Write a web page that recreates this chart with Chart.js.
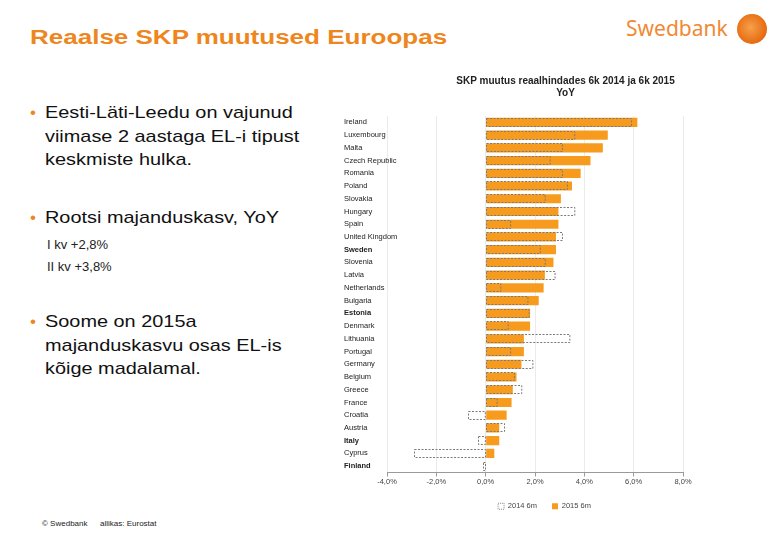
<!DOCTYPE html>
<html>
<head>
<meta charset="utf-8">
<script src="https://cdn.jsdelivr.net/npm/chart.js@4.4.0/dist/chart.umd.min.js"></script>
<style>
  body { margin: 0; background: #fff; font-family: "Liberation Sans", Arial, sans-serif; }
  #page { position: relative; width: 780px; height: 540px; overflow: hidden; }
  .abs { position: absolute; white-space: nowrap; transform-origin: 0 0; }
  #title { left: 30px; top: 26px; font-size: 20px; font-weight: bold; color: #EE8620; transform: scaleX(1.3); }
  #logo { left: 626px; top: 14px; font-size: 21px; color: #F08A34; font-family: "Noto Sans", Arial, sans-serif; }
  #logoDot { left: 737px; top: 14px; width: 30px; height: 30px; border-radius: 50%;
             background: radial-gradient(circle at 45% 45%, #F6A04A, #E56A10 70%, #C8560A); }
  .bullet { left: 30px; font-size: 17px; color: #111; line-height: 23.5px; }
  .bullet b { color: #EE8620; font-weight: normal; position: absolute; left: 0; }
  .bullet span { display: block; padding-left: 15px; transform: scaleX(1.17); transform-origin: 15px 0; }
  .sub { left: 47px; font-size: 13px; color: #222; }
  .foot { top: 519px; font-size: 8px; color: #222; }
  #chartBox { position: absolute; left: 330px; top: 68px; width: 380px; height: 454px; }
</style>
</head>
<body>
<div id="page">
  <div class="abs" id="title">Reaalse SKP muutused Euroopas</div>
  <div class="abs" id="logo">Swedbank</div>
  <div class="abs" id="logoDot"></div>

  <div class="abs bullet" style="top:101px"><b>•</b><span>Eesti-Läti-Leedu on vajunud<br>viimase 2 aastaga EL-i tipust<br>keskmiste hulka.</span></div>
  <div class="abs bullet" style="top:206px"><b>•</b><span>Rootsi majanduskasv, YoY</span></div>
  <div class="abs sub" style="top:237px">I kv +2,8%</div>
  <div class="abs sub" style="top:259px">II kv +3,8%</div>
  <div class="abs bullet" style="top:310px"><b>•</b><span>Soome on 2015a<br>majanduskasvu osas EL-is<br>kõige madalamal.</span></div>

  <div class="abs foot" style="left:42px">© Swedbank</div>
  <div class="abs foot" style="left:100px">allikas: Eurostat</div>

  <div id="chartBox"><canvas id="gdpChart"></canvas></div>
</div>

<script>
// countries, top to bottom
const countries = ['Ireland', 'Luxembourg', 'Malta', 'Czech Republic', 'Romania', 'Poland', 'Slovakia',
    'Hungary', 'Spain', 'United Kingdom', 'Sweden', 'Slovenia', 'Latvia', 'Netherlands', 'Bulgaria',
    'Estonia', 'Denmark', 'Lithuania', 'Portugal', 'Germany', 'Belgium', 'Greece', 'France', 'Croatia',
    'Austria', 'Italy', 'Cyprus', 'Finland'];
// real GDP change YoY, %
const gdp2014 = [5.9, 3.6, 3.1, 2.6, 3.1, 3.3, 2.4, 3.6, 1.0, 3.1, 2.2, 2.4, 2.8, 0.6, 1.7,
    1.75, 0.9, 3.4, 1.0, 1.9, 1.15, 1.45, 0.45, -0.7, 0.75, -0.3, -2.9, -0.1];
const gdp2015 = [6.15, 4.95, 4.75, 4.25, 3.85, 3.5, 3.05, 2.95, 2.95, 2.85, 2.85, 2.75, 2.4, 2.35, 2.15,
    1.8, 1.8, 1.55, 1.55, 1.45, 1.25, 1.1, 1.05, 0.85, 0.55, 0.55, 0.35, 0.0];
const boldCountries = ['Sweden', 'Estonia', 'Finland', 'Italy'];
const xTicks = [-4, -2, 0, 2, 4, 6, 8];

const FONT = '"Liberation Sans", Arial, sans-serif';

// 2014 bars are drawn as dashed outlines over the orange ones
const dashedBars = {
    id: 'dashedBars',
    afterDatasetsDraw(chart) {
        const meta = chart.getDatasetMeta(0);
        const ctx = chart.ctx;
        ctx.save();
        ctx.strokeStyle = '#7a7a7a';
        ctx.lineWidth = 1;
        ctx.setLineDash([2, 1.5]);
        meta.data.forEach(bar => {
            const p = bar.getProps(['x', 'y', 'base', 'height'], true);
            const left = Math.min(p.x, p.base), right = Math.max(p.x, p.base);
            const top = p.y - p.height / 2;
            ctx.strokeRect(Math.round(left) + 0.5, Math.round(top) + 0.5,
                Math.max(right - left, 2), Math.round(p.height) - 1);
        });
        ctx.restore();
    }
};

// nudge title and legend to the right like the original
const shiftBlocks = {
    id: 'shiftBlocks',
    afterLayout(chart) {
        [chart.titleBlock, chart.legend].forEach((b, i) => {
            const dx = i === 0 ? 52 : 31;
            b.left += dx; b.right += dx;
        });
    }
};

const ctx = document.getElementById('gdpChart').getContext('2d');
new Chart(ctx, {
    type: 'bar',
    data: {
        labels: countries,
        datasets: [
            {
                label: '2014 6m',
                data: gdp2014,
                backgroundColor: 'rgba(0,0,0,0)',
                borderWidth: 0,
                grouped: false,
                order: 0
            },
            {
                label: '2015 6m',
                data: gdp2015,
                backgroundColor: '#F79B1E',
                borderWidth: 0,
                grouped: false,
                order: 1
            }
        ]
    },
    options: {
        indexAxis: 'y',
        responsive: true,
        maintainAspectRatio: false,
        animation: false,
        barPercentage: 0.72,
        categoryPercentage: 1,
        layout: { padding: { left: 14, right: 27, top: 2, bottom: 2 } },
        scales: {
            x: {
                min: -4,
                max: 8,
                afterBuildTicks: axis => { axis.ticks = xTicks.map(v => ({ value: v })); },
                grid: { color: '#ebebeb', tickColor: '#9a9a9a', tickLength: 4 },
                border: { color: '#9a9a9a' },
                ticks: {
                    font: { family: FONT, size: 7.5 },
                    color: '#444',
                    padding: 1,
                    callback: v => v.toFixed(1).replace('.', ',') + '%'
                }
            },
            y: {
                afterFit: axis => { axis.width = 43; },
                grid: { display: false },
                border: { display: false },
                ticks: {
                    mirror: true,
                    crossAlign: 'near',
                    padding: -43,
                    autoSkip: false,
                    color: '#222',
                    font: c => ({
                        family: FONT,
                        size: 7.5,
                        weight: boldCountries.includes(countries[c.index]) ? 'bold' : 'normal'
                    })
                }
            }
        },
        plugins: {
            title: {
                display: true,
                text: ['SKP muutus reaalhindades 6k 2014 ja 6k 2015', 'YoY'],
                color: '#222',
                font: { family: FONT, size: 10, weight: 'bold', lineHeight: 1.2 },
                padding: { top: 5, bottom: 17 }
            },
            legend: {
                position: 'bottom',
                labels: {
                    boxWidth: 6,
                    boxHeight: 6,
                    color: '#444',
                    padding: 15,
                    font: { family: FONT, size: 7.5 },
                    generateLabels: chart => chart.data.datasets.map((ds, i) => ({
                        text: ds.label,
                        datasetIndex: i,
                        fillStyle: i === 0 ? '#fff' : '#F79B1E',
                        strokeStyle: i === 0 ? '#888' : '#F79B1E',
                        lineWidth: i === 0 ? 1 : 0,
                        lineDash: i === 0 ? [1, 1] : [],
                        fontColor: '#444'
                    }))
                }
            },
            tooltip: { enabled: false }
        }
    },
    plugins: [dashedBars, shiftBlocks]
});
</script>
</body>
</html>
